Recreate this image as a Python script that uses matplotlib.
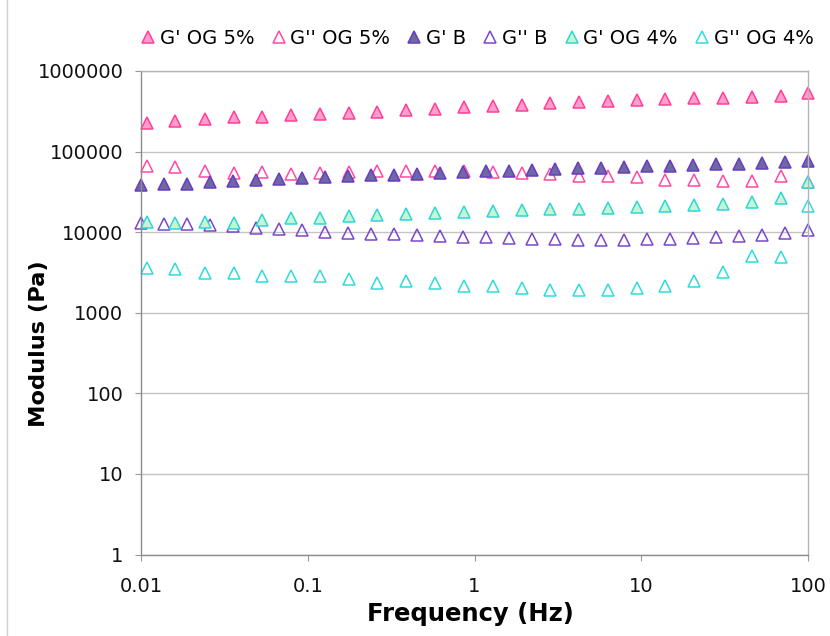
import matplotlib
matplotlib.use("Agg")
import matplotlib.pyplot as plt
from matplotlib.lines import Line2D
from matplotlib.ticker import FixedLocator, FixedFormatter, NullLocator

# Frequency sweeps (Hz)
freq_og = [0.0108, 0.0161, 0.0242, 0.0360, 0.0534, 0.0794, 0.118, 0.176,
           0.261, 0.390, 0.580, 0.861, 1.29, 1.92, 2.85, 4.24, 6.30, 9.39,
           13.9, 20.7, 31.0, 46.1, 68.5, 100.0]
freq_b = [0.0100, 0.0137, 0.0189, 0.0259, 0.0356, 0.0489, 0.0672, 0.0924,
          0.127, 0.174, 0.240, 0.329, 0.452, 0.621, 0.853, 1.17, 1.61, 2.21,
          3.04, 4.18, 5.74, 7.88, 10.8, 14.9, 20.4, 28.1, 38.6, 53.0, 72.8,
          100.0]

# Moduli (Pa)
gp_og5 = [224000, 242000, 254000, 266000, 271000, 284000, 292000, 301000,
          312000, 328000, 340000, 357000, 371000, 381000, 397000, 412000,
          424000, 436000, 449000, 458000, 466000, 480000, 493000, 528000]
gpp_og5 = [67000, 64600, 58000, 54400, 55300, 53300, 54400, 56500,
           57000, 58000, 58000, 57000, 56000, 54400, 53300, 50300,
           49400, 48000, 44900, 44900, 43300, 42800, 49400, 42000]
gp_b = [38100, 39700, 40000, 41600, 42800, 44000, 45300, 46600, 48400, 49400,
        50800, 51800, 53300, 54400, 55300, 57000, 58000, 59700, 61000, 62000,
        63300, 64600, 65600, 67000, 68400, 69500, 71000, 73000, 75200, 77300]
gpp_b = [13100, 12800, 12500, 12100, 11800, 11300, 11000, 10600, 10000, 9870,
         9580, 9400, 9200, 8970, 8800, 8620, 8460, 8300, 8200, 8080,
         8080, 8080, 8200, 8300, 8460, 8700, 8970, 9300, 9870, 10500]
gp_og4 = [13200, 13000, 13200, 13100, 14300, 15000, 14900, 15700,
          16200, 17000, 17300, 17800, 18500, 18900, 19200, 19600,
          20000, 20300, 20900, 21500, 22600, 23900, 26600, 41600]
gpp_og4 = [3590, 3520, 3080, 3110, 2880, 2830, 2880, 2610,
           2340, 2450, 2340, 2160, 2120, 2020, 1930, 1930,
           1930, 2020, 2160, 2450, 3210, 5100, 4860, 20900]

labels = ["G' OG 5%", "G'' OG 5%", "G' B", "G'' B", "G' OG 4%", "G'' OG 4%"]
x_ticks = [0.01, 0.1, 1, 10, 100]
x_tick_labels = ["0.01", "0.1", "1", "10", "100"]
y_ticks = [1, 10, 100, 1000, 10000, 100000, 1000000]
y_tick_labels = ["1", "10", "100", "1000", "10000", "100000", "1000000"]

plt.rcParams['font.family'] = ['DejaVu Sans']

fig = plt.figure(figsize=(8.30, 6.36), dpi=100)
ax = fig.add_axes([141 / 830, 1 - 554.5 / 636, 667 / 830, 483.5 / 636])

series = [
    (freq_og, gp_og5, '#ff9ecd', '#ff3f98'),
    (freq_og, gpp_og5, 'none', '#ff4aa3'),
    (freq_b, gp_b, '#6d69a2', '#6a3cc0'),
    (freq_b, gpp_b, 'none', '#7a46cc'),
    (freq_og, gp_og4, '#c3f6d1', '#2fd6d8'),
    (freq_og, gpp_og4, 'none', '#2edcdc'),
]
for (fx, fy, fc, ec), lab in zip(series, labels):
    ax.plot(fx, fy, linestyle='none', marker='^', markersize=9,
            markerfacecolor=fc, markeredgecolor=ec, markeredgewidth=1.1,
            label=lab, clip_on=False)

ax.set_xscale('log')
ax.set_yscale('log')
ax.set_xlim(0.01, 100)
ax.set_ylim(1, 1000000)

ax.xaxis.set_major_locator(FixedLocator(x_ticks))
ax.xaxis.set_major_formatter(FixedFormatter(x_tick_labels))
ax.yaxis.set_major_locator(FixedLocator(y_ticks))
ax.yaxis.set_major_formatter(FixedFormatter(y_tick_labels))
ax.xaxis.set_minor_locator(NullLocator())
ax.yaxis.set_minor_locator(NullLocator())

ax.grid(axis='y', color='#c4c4c4', linewidth=1.0)
ax.set_axisbelow(True)
for side in ['top', 'right']:
    ax.spines[side].set_color('#b4b4b4')
    ax.spines[side].set_linewidth(1.0)
for side in ['left', 'bottom']:
    ax.spines[side].set_color('#8c8c8c')
    ax.spines[side].set_linewidth(1.0)

ax.tick_params(axis='both', which='major', direction='out', length=4.3,
               width=0.8, color='#9a9a9a', labelsize=14, labelcolor='#111111')
ax.tick_params(axis='y', pad=8.4)
ax.tick_params(axis='x', pad=12)

ax.set_xlabel('Frequency (Hz)', fontsize=17.5, fontweight='bold')
ax.set_ylabel('Modulus (Pa)', fontsize=16.2, fontweight='bold')
ax.xaxis.set_label_coords(0.494, -0.098)
ax.yaxis.set_label_coords(-0.138, 0.436)

leg = ax.legend(loc='center left', bbox_to_anchor=(140.5 / 830, 1 - 38.3 / 636),
                bbox_transform=fig.transFigure, ncol=6, frameon=False,
                fontsize=14, handlelength=0.8, handletextpad=0.2,
                columnspacing=0.84, borderpad=0, borderaxespad=0)

# thin chart-area edge on the left
fig.add_artist(Line2D([7 / 830, 7 / 830], [0, 1], transform=fig.transFigure,
                      color='#d0d0d0', linewidth=1.0))

fig.savefig('out.png', dpi=100)
